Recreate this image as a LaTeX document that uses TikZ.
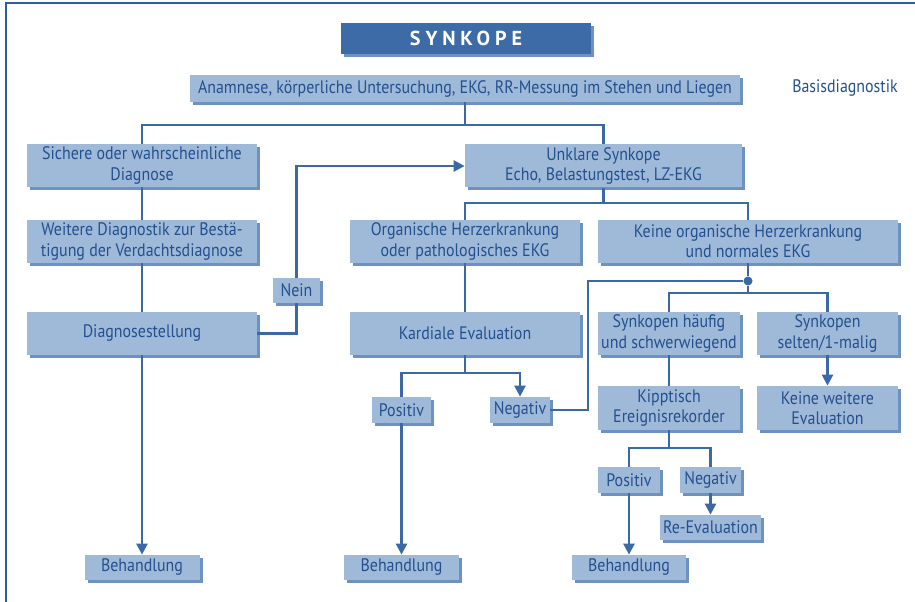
\documentclass[tikz,border=0pt]{standalone}
\usepackage{xcolor}
\usepackage{fontspec}
\setmainfont[FakeStretch=0.88]{PT Sans}
\newfontfamily\titlefont[LetterSpace=24]{PT Sans}
\usepackage{tikz}
\usetikzlibrary{arrows.meta,shadows}
\definecolor{SYFill}{HTML}{9FB9D9}
\definecolor{SYShadow}{HTML}{6D91C0}
\definecolor{SYText}{HTML}{24508E}
\definecolor{SYLine}{HTML}{3A69A6}
\definecolor{SYTitle}{HTML}{3C6BA8}
\definecolor{SYFrame}{HTML}{2E5E9C}
\tikzset{
  box/.style={fill=SYFill,text=SYText,inner sep=0pt,align=center,
    font=\fontsize{10.3}{11.5}\selectfont,
    drop shadow={shadow xshift=0.06cm,shadow yshift=-0.06cm,fill=SYShadow,opacity=1}},
  link/.style={draw=SYLine,line width=1.4pt},
  flow/.style={link,-{Triangle[length=0.22cm,width=0.22cm]}}
}

\begin{document}
\begin{tikzpicture}[x=1cm,y=1cm]
\path[use as bounding box] (0,0) rectangle (18.30,12.04);
\draw[SYFrame,line width=1pt] (0.12,0) -- (0.12,11.98) -- (18.30,11.98);
\node[box,fill=SYTitle,text=white,minimum width=5.00cm,minimum height=0.62cm] (title) at (9.32,11.27) {\titlefont\fontsize{11.5}{13}\selectfont\bfseries SYNKOPE};
\node[box,minimum width=11.00cm,minimum height=0.54cm] (anam) at (9.30,10.27) {Anamnese, körperliche Untersuchung, EKG, RR-Messung im Stehen und Liegen};
\node[text=SYText,font=\fontsize{10.3}{11.5}\selectfont] (basis) at (16.90,10.28) {Basisdiagnostik};
\node[box,minimum width=4.60cm,minimum height=0.86cm] (sich) at (2.84,8.73) {Sichere oder wahrscheinliche\\Diagnose};
\node[box,minimum width=5.54cm,minimum height=0.86cm] (unkl) at (12.07,8.72) {Unklare Synkope\\Echo, Belastungstest, LZ-EKG};
\node[box,minimum width=4.60cm,minimum height=0.86cm] (weit) at (2.84,7.21) {Weitere Diagnostik zur Bestä-\\tigung der Verdachtsdiagnose};
\node[box,minimum width=0.94cm,minimum height=0.50cm] (nein) at (5.93,6.23) {Nein};
\node[box,minimum width=4.60cm,minimum height=0.86cm] (diag) at (2.84,5.37) {Diagnosestellung};
\node[box,minimum width=4.60cm,minimum height=0.86cm] (org) at (9.30,7.21) {Organische Herzerkrankung\\oder pathologisches EKG};
\node[box,minimum width=6.00cm,minimum height=0.86cm] (keine) at (14.96,7.21) {Keine organische Herzerkrankung\\und normales EKG};
\node[box,minimum width=4.60cm,minimum height=0.86cm] (kard) at (9.30,5.37) {Kardiale Evaluation};
\node[box,minimum width=2.84cm,minimum height=0.86cm] (haeuf) at (13.38,5.37) {Synkopen häufig\\und schwerwiegend};
\node[box,minimum width=2.82cm,minimum height=0.86cm] (selt) at (16.55,5.37) {Synkopen\\selten/1-malig};
\node[box,minimum width=2.84cm,minimum height=0.88cm] (kipp) at (13.38,3.88) {Kipptisch\\Ereignisrekorder};
\node[box,minimum width=2.82cm,minimum height=0.88cm] (kweit) at (16.55,3.88) {Keine weitere\\Evaluation};
\node[box,minimum width=1.18cm,minimum height=0.52cm] (pos1) at (8.03,3.84) {Positiv};
\node[box,minimum width=1.20cm,minimum height=0.52cm] (neg1) at (10.40,3.84) {Negativ};
\node[box,minimum width=1.24cm,minimum height=0.52cm] (pos2) at (12.58,2.44) {Positiv};
\node[box,minimum width=1.22cm,minimum height=0.52cm] (neg2) at (14.21,2.44) {Negativ};
\node[box,minimum width=2.02cm,minimum height=0.50cm] (reev) at (14.21,1.49) {Re-Evaluation};
\node[box,minimum width=2.30cm,minimum height=0.50cm] (beh1) at (2.84,0.69) {Behandlung};
\node[box,minimum width=2.30cm,minimum height=0.50cm] (beh2) at (8.03,0.69) {Behandlung};
\node[box,minimum width=2.28cm,minimum height=0.50cm] (beh3) at (12.58,0.69) {Behandlung};
\node[circle,fill=SYLine,inner sep=0pt,minimum size=0.18cm] (dot) at (14.96,6.42) {};
\coordinate (jA) at (9.30,9.54);
\coordinate (jB) at (12.07,7.98);
\coordinate (jC) at (11.76,6.42);
\coordinate (jD) at (14.96,6.18);
\coordinate (jE) at (9.30,4.58);
\coordinate (jF) at (13.38,3.08);
% Basisdiagnostik
\draw[link] (anam.south) -- (jA);
\draw[link] (sich.north) |- (jA) -| (unkl.north);
% left column
\draw[link] (sich) -- (weit);
\draw[link] (weit) -- (diag);
\draw[flow] (diag) -- (beh1);
\draw[link] (diag.east) -| (nein.south);
\draw[flow] (nein.north) |- (unkl.west);
% unklare Synkope
\draw[link] (unkl.south) -- (jB);
\draw[link] (org.north) |- (jB) -| (keine.north);
\draw[link] (org) -- (kard);
\draw[link] (kard.south) -- (jE);
\draw[link] (pos1.north) |- (jE);
\draw[flow] (jE) -| (neg1.north);
\draw[flow] (pos1) -- (beh2);
\draw[link] (keine.south) -- (dot);
\draw[link] (dot) -- (jC) |- (neg1.east);
\draw[link] (dot) -- (jD);
\draw[link] (haeuf.north) |- (jD) -| (selt.north);
\draw[flow] (selt) -- (kweit);
\draw[link] (haeuf) -- (kipp);
\draw[link] (kipp.south) -- (jF);
\draw[link] (pos2.north) |- (jF) -| (neg2.north);
\draw[flow] (neg2) -- (reev);
\draw[flow] (pos2) -- (beh3);
\end{tikzpicture}
\end{document}
